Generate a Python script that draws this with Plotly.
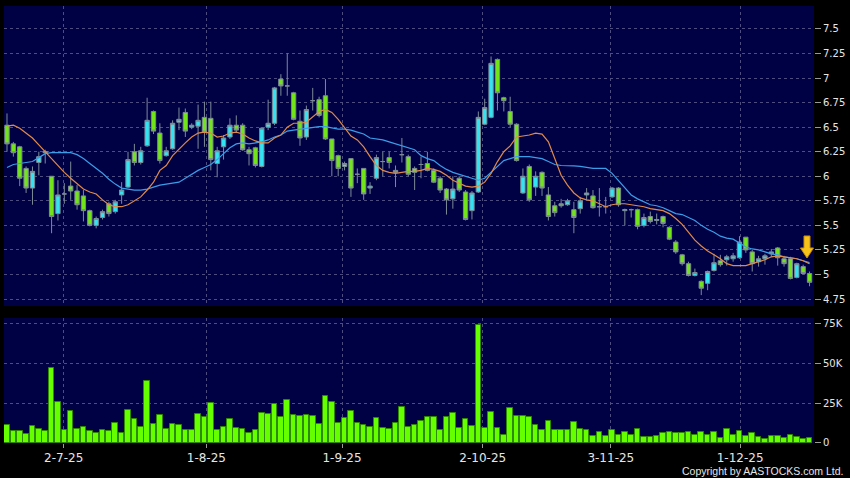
import plotly.graph_objects as go
from plotly.subplots import make_subplots

# daily OHLC, oldest first
opens = [6.52, 6.33, 6.30, 6.08, 5.88, 6.14, 6.24, 6.00, 5.62, 5.82,
         5.90, 5.85, 5.80, 5.65, 5.50, 5.58, 5.72, 5.64, 5.81, 5.89,
         6.25, 6.14, 6.31, 6.66, 6.44, 6.21, 6.28, 6.55, 6.65, 6.50,
         6.51, 6.60, 6.59, 6.13, 6.30, 6.40, 6.52, 6.52, 6.27, 6.29,
         6.10, 6.50, 6.54, 6.99, 6.92, 6.85, 6.56, 6.40, 6.77, 6.78,
         6.82, 6.38, 6.21, 6.10, 6.18, 6.02, 6.08, 5.88, 5.98, 6.15,
         6.19, 6.06, 6.22, 6.20, 6.08, 6.12, 6.13, 6.06, 5.98, 5.87,
         5.77, 5.98, 5.84, 5.65, 5.84, 6.53, 6.60, 7.19, 6.80, 6.66,
         6.53, 5.83, 6.10, 5.89, 6.04, 5.81, 5.70, 5.72, 5.71, 5.66,
         5.67, 5.81, 5.80, 5.69, 5.69, 5.79, 5.88, 5.65, 5.66, 5.66,
         5.50, 5.59, 5.55, 5.59, 5.48, 5.33, 5.20, 5.11, 4.99, 4.93,
         4.91, 5.04, 5.14, 5.15, 5.16, 5.17, 5.38, 5.23, 5.13, 5.16,
         5.21, 5.27, 5.16, 5.16, 4.97, 5.08, 5.01]
highs = [6.64, 6.35, 6.31, 6.10, 6.10, 6.25, 6.27, 6.00, 5.96, 5.93,
         6.15, 5.91, 5.86, 5.66, 5.59, 5.66, 5.74, 5.76, 5.94, 6.25,
         6.33, 6.30, 6.80, 6.67, 6.54, 6.30, 6.57, 6.70, 6.69, 6.54,
         6.73, 6.76, 6.76, 6.30, 6.42, 6.59, 6.62, 6.54, 6.30, 6.30,
         6.50, 6.78, 6.91, 7.04, 7.25, 6.86, 6.67, 6.72, 6.90, 6.81,
         6.99, 6.38, 6.22, 6.15, 6.18, 6.08, 6.08, 5.94, 6.22, 6.25,
         6.25, 6.11, 6.39, 6.22, 6.10, 6.20, 6.25, 6.08, 6.00, 5.88,
         6.00, 6.00, 5.86, 5.85, 6.66, 6.79, 7.22, 7.20, 6.81, 6.81,
         6.54, 6.08, 6.12, 6.05, 6.05, 5.89, 5.74, 5.77, 5.77, 5.74,
         5.79, 5.88, 5.86, 5.88, 5.79, 5.89, 5.89, 5.67, 5.67, 5.67,
         5.62, 5.64, 5.62, 5.60, 5.49, 5.35, 5.21, 5.13, 5.06, 4.94,
         5.04, 5.21, 5.20, 5.20, 5.22, 5.39, 5.38, 5.25, 5.19, 5.21,
         5.26, 5.28, 5.19, 5.18, 5.12, 5.10, 5.03]
lows = [6.25, 6.20, 5.90, 5.83, 5.71, 6.01, 6.13, 5.42, 5.55, 5.72,
        5.76, 5.66, 5.54, 5.49, 5.47, 5.56, 5.59, 5.62, 5.72, 5.88,
        6.11, 6.12, 6.30, 6.43, 6.13, 6.20, 6.27, 6.47, 6.40, 6.48,
        6.28, 6.30, 6.06, 5.99, 6.17, 6.38, 6.45, 6.26, 6.11, 6.09,
        6.09, 6.47, 6.52, 6.82, 6.82, 6.57, 6.31, 6.37, 6.67, 6.60,
        6.37, 6.00, 6.00, 6.06, 5.79, 5.93, 5.76, 5.82, 5.96, 6.00,
        6.08, 5.89, 6.14, 6.00, 5.86, 5.98, 6.05, 5.93, 5.83, 5.61,
        5.67, 5.84, 5.55, 5.56, 5.83, 6.52, 6.59, 6.67, 6.66, 6.50,
        6.15, 5.82, 5.74, 5.80, 5.80, 5.55, 5.59, 5.68, 5.70, 5.42,
        5.62, 5.76, 5.67, 5.59, 5.62, 5.78, 5.69, 5.50, 5.58, 5.46,
        5.48, 5.52, 5.51, 5.48, 5.35, 5.21, 5.09, 4.98, 4.98, 4.79,
        4.84, 5.03, 5.08, 5.09, 5.13, 5.16, 5.22, 5.03, 5.08, 5.10,
        5.18, 5.09, 5.08, 4.95, 4.96, 5.00, 4.88]
closes = [6.33, 6.24, 5.98, 5.88, 6.05, 6.20, 6.25, 5.59, 5.81, 5.82,
          5.85, 5.71, 5.65, 5.50, 5.57, 5.64, 5.62, 5.74, 5.86, 6.17,
          6.14, 6.26, 6.57, 6.46, 6.16, 6.26, 6.54, 6.58, 6.46, 6.52,
          6.57, 6.45, 6.17, 6.26, 6.39, 6.52, 6.47, 6.27, 6.23, 6.11,
          6.49, 6.54, 6.90, 6.92, 6.92, 6.58, 6.39, 6.68, 6.77, 6.62,
          6.38, 6.16, 6.08, 6.13, 5.88, 6.02, 5.82, 5.90, 6.19, 6.15,
          6.14, 6.04, 6.22, 6.02, 6.04, 6.12, 6.06, 5.94, 5.86, 5.76,
          5.87, 5.86, 5.56, 5.83, 6.60, 6.70, 7.15, 6.85, 6.77, 6.53,
          6.16, 6.00, 5.76, 6.00, 5.88, 5.59, 5.63, 5.70, 5.75, 5.58,
          5.75, 5.83, 5.68, 5.69, 5.69, 5.88, 5.71, 5.66, 5.66, 5.49,
          5.58, 5.54, 5.56, 5.52, 5.36, 5.23, 5.11, 4.99, 5.02, 4.86,
          5.03, 5.12, 5.10, 5.18, 5.19, 5.33, 5.25, 5.11, 5.16, 5.19,
          5.23, 5.17, 5.11, 4.96, 5.11, 5.01, 4.92]

# moving averages as drawn on the chart
ma_short = [6.51, 6.52, 6.49, 6.44, 6.39, 6.32, 6.25, 6.18, 6.10, 6.04,
            5.98, 5.92, 5.87, 5.84, 5.82, 5.76, 5.71, 5.69, 5.69, 5.71,
            5.75, 5.79, 5.86, 5.94, 6.06, 6.11, 6.21, 6.28, 6.34, 6.40,
            6.44, 6.45, 6.44, 6.40, 6.41, 6.44, 6.45, 6.43, 6.39, 6.36,
            6.34, 6.34, 6.39, 6.42, 6.50, 6.54, 6.54, 6.55, 6.61, 6.66,
            6.68, 6.65, 6.58, 6.49, 6.41, 6.37, 6.30, 6.20, 6.11, 6.06,
            6.04, 6.03, 6.04, 6.05, 6.05, 6.06, 6.08, 6.07, 6.05, 6.01,
            5.96, 5.93, 5.90, 5.89, 5.90, 5.94, 6.03, 6.15, 6.25, 6.31,
            6.40, 6.41, 6.42, 6.44, 6.43, 6.35, 6.17, 6.01, 5.91, 5.83,
            5.78, 5.76, 5.75, 5.72, 5.69, 5.71, 5.72, 5.72, 5.71, 5.70,
            5.69, 5.67, 5.66, 5.65, 5.62, 5.57, 5.51, 5.43, 5.35, 5.29,
            5.24, 5.20, 5.16, 5.11, 5.09, 5.09, 5.09, 5.11, 5.13, 5.15,
            5.18, 5.19, 5.18, 5.17, 5.16, 5.14, 5.11]
ma_long = [6.09, 6.12, 6.13, 6.14, 6.15, 6.19, 6.23, 6.24, 6.24, 6.24,
           6.24, 6.22, 6.18, 6.13, 6.08, 6.03, 5.97, 5.92, 5.88, 5.87,
           5.86, 5.86, 5.87, 5.89, 5.91, 5.92, 5.93, 5.94, 5.98, 6.02,
           6.06, 6.09, 6.12, 6.17, 6.23, 6.29, 6.33, 6.34, 6.33, 6.34,
           6.35, 6.37, 6.40, 6.42, 6.46, 6.47, 6.48, 6.49, 6.50, 6.505,
           6.505, 6.495, 6.48, 6.48, 6.47, 6.45, 6.43, 6.39, 6.38, 6.37,
           6.35, 6.33, 6.31, 6.29, 6.27, 6.21, 6.18, 6.16, 6.11, 6.07,
           6.04, 6.02, 6.00, 5.98, 5.96, 5.98, 6.04, 6.10, 6.16, 6.18,
           6.20, 6.20, 6.20, 6.19, 6.18, 6.15, 6.12, 6.11, 6.11, 6.105,
           6.10, 6.09, 6.08, 6.08, 6.08, 6.03, 5.96, 5.88, 5.81, 5.77,
           5.74, 5.71, 5.70, 5.68, 5.65, 5.62, 5.61, 5.58, 5.55, 5.50,
           5.46, 5.43, 5.39, 5.37, 5.36, 5.32, 5.28, 5.26, 5.25, 5.23,
           5.21, 5.20, 5.18, 5.17, 5.16, 5.14, 5.12]

volumes = [11500, 7700, 7700, 5800, 10600, 8750, 7300, 46900, 25600, 8300,
           19800, 8750, 9800, 7300, 6250, 7900, 7300, 12300, 6250, 20800,
           15200, 9800, 38700, 12100, 17500, 9000, 11900, 11250, 7900, 7900,
           18100, 16450, 25000, 8300, 10200, 14800, 9150, 8750, 6250, 7900,
           18950, 18300, 24400, 16000, 26900, 17500, 16650, 17700, 17100, 11900,
           29400, 25400, 12500, 15400, 20200, 12300, 11000, 10000, 15600, 9400,
           8750, 12700, 22500, 10200, 11500, 13500, 16250, 16050, 7900, 16250,
           18550, 9400, 15000, 10600, 73950, 9400, 19150, 9400, 5200, 21900,
           16900, 16900, 16450, 11000, 8300, 13950, 7900, 7900, 7900, 13100,
           8550, 7900, 4600, 7100, 4600, 8100, 5000, 7100, 5200, 8750,
           3750, 3750, 4600, 6250, 7100, 6450, 6250, 7100, 5000, 7100,
           5000, 6650, 2900, 8750, 5200, 7300, 4600, 6250, 3950, 2500,
           4400, 4600, 3100, 5200, 3950, 2300, 3100]

date_ticks = [8.9, 31.3, 52.6, 74.7, 94.8, 115.1]
date_labels = ["2-7-25", "1-8-25", "1-9-25", "2-10-25", "3-11-25", "1-12-25"]
price_ticks = [4.75, 5, 5.25, 5.5, 5.75, 6, 6.25, 6.5, 6.75, 7, 7.25, 7.5]
vol_ticks = [0, 25000, 50000, 75000]
vol_labels = ["0", "25K", "50K", "75K"]

x = list(range(len(closes)))

BG = "#000044"
GRID = "#4d4d80"
TXT = "#e6e6e6"

fig = make_subplots(rows=2, cols=1, shared_xaxes=True)

fig.add_trace(go.Candlestick(
    x=x, open=opens, high=highs, low=lows, close=closes,
    increasing=dict(line=dict(color="#7d8a96", width=1), fillcolor="#30e4f4"),
    decreasing=dict(line=dict(color="#7d8a96", width=1), fillcolor="#72e41a"),
    whiskerwidth=0, showlegend=False, hoverinfo="skip",
), row=1, col=1)
fig.add_trace(go.Scatter(x=x, y=ma_long, mode="lines",
                         line=dict(color="#3b9de8", width=1.2), showlegend=False), row=1, col=1)
fig.add_trace(go.Scatter(x=x, y=ma_short, mode="lines",
                         line=dict(color="#e08a4a", width=1.2), showlegend=False), row=1, col=1)

fig.add_trace(go.Bar(x=x, y=volumes, width=0.88,
                     marker=dict(color="#66ff00", line=dict(color="#2e8a00", width=1)),
                     showlegend=False), row=2, col=1)

# yellow marker arrow over the latest candles
fig.add_shape(type="path", xref="x", yref="y", xsizemode="pixel", ysizemode="pixel",
              xanchor=125.6, yanchor=5.168,
              path="M 0 0 L -6.5 10 L -3 10 L -3 22 L 3 22 L 3 10 L 6.5 10 Z",
              fillcolor="#f7c31b", line=dict(color="#c98f00", width=1))

fig.add_annotation(text="Copyright by AASTOCKS.com Ltd.", xref="paper", yref="paper",
                   x=1.038, y=-0.064, xanchor="right", yanchor="middle", showarrow=False,
                   font=dict(family="Liberation Sans, Arial", size=10.5, color=TXT))

axis_common = dict(showline=False, zeroline=False, gridcolor=GRID, griddash="3px,3px", gridwidth=1)

fig.update_xaxes(range=[-0.47, 126.7], tickvals=date_ticks, ticktext=date_labels,
                 **axis_common)
fig.update_xaxes(showticklabels=False, ticks="", row=1, col=1)
fig.update_xaxes(ticks="outside", ticklen=4, tickcolor="#9a9a9a",
                 tickfont=dict(family="DejaVu Sans", size=12, color=TXT), row=2, col=1)

fig.update_yaxes(side="right", ticks="outside", ticklen=6, tickcolor="#9a9a9a",
                 tickfont=dict(family="DejaVu Sans", size=10, color=TXT), **axis_common)
fig.update_yaxes(range=[4.679, 7.734], tickvals=price_ticks, domain=[0.3135, 1.0], row=1, col=1)
fig.update_yaxes(range=[0, 78300], tickvals=vol_ticks, ticktext=vol_labels,
                 domain=[0.0, 0.286], row=2, col=1)

fig.update_layout(
    width=850, height=478,
    margin=dict(l=4, r=36, t=6, b=35),
    paper_bgcolor="#000000", plot_bgcolor=BG,
    xaxis_rangeslider_visible=False,
    bargap=0, boxgap=0.32, boxgroupgap=0, hovermode=False,
)

# page has a default 8px body margin; drop it so the figure fills the window
fig.write_html("out.html", config={"displayModeBar": False},
               post_script="document.body.style.margin='0';document.body.style.background='#000';")
